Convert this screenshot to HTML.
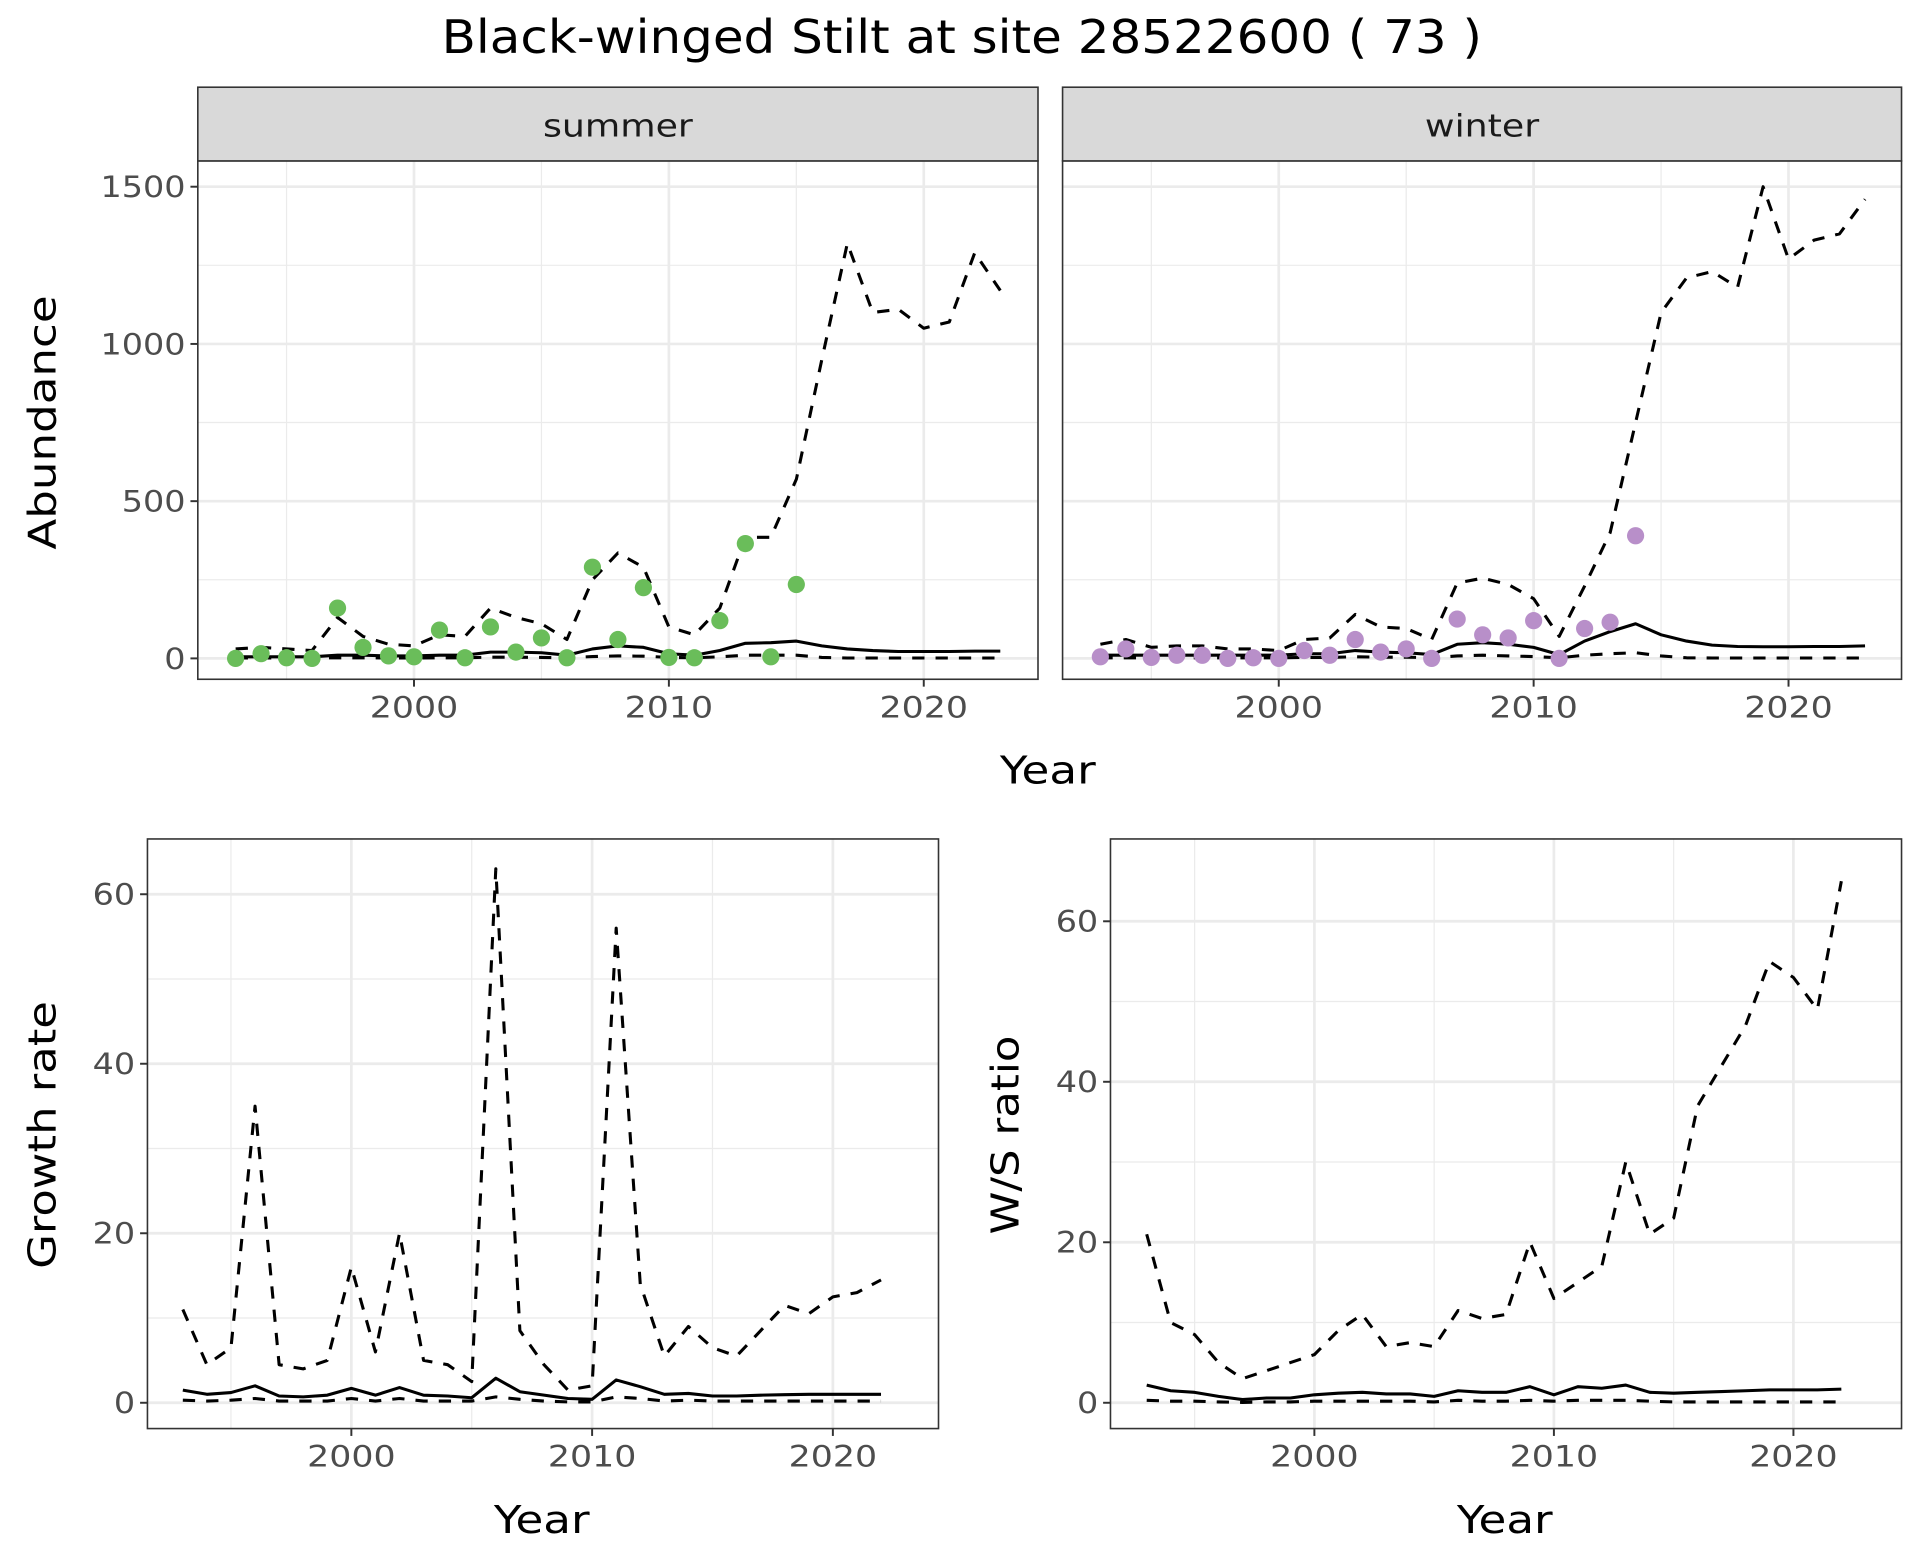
<!DOCTYPE html>
<html><head><meta charset="utf-8"><style>
body{margin:0;background:#fff}
svg{display:block;font-family:"DejaVu Sans","Liberation Sans",sans-serif}
</style></head><body>
<svg id="c" width="1920" height="1560" viewBox="0 0 1563 1270" xmlns="http://www.w3.org/2000/svg">
<text x="783" y="43" font-size="38" text-anchor="middle" fill="#000" textLength="847" lengthAdjust="spacingAndGlyphs">Black-winged Stilt at site 28522600 ( 73 )</text>
</svg>
<script>
const yearsA = [1993,1994,1995,1996,1997,1998,1999,2000,2001,2002,2003,2004,2005,2006,2007,2008,2009,2010,2011,2012,2013,2014,2015,2016,2017,2018,2019,2020,2021,2022,2023];
const summerPtsYears = [1993,1994,1995,1996,1997,1998,1999,2000,2001,2002,2003,2004,2005,2006,2007,2008,2009,2010,2011,2012,2013,2014,2015];
const summerPts = [0,15,2,0,160,35,8,5,90,2,100,20,65,2,290,60,225,3,2,120,365,5,235];
const summerUpper = [30,35,30,25,130,70,45,40,75,70,160,130,110,60,250,335,290,100,75,160,385,385,570,950,1320,1100,1110,1050,1070,1290,1170];
const summerMid = [5,5,5,5,10,10,8,8,10,10,20,20,18,10,30,40,35,15,10,25,48,50,55,40,30,25,22,22,22,23,23];
const summerLower = [1,1,1,1,2,2,1,1,2,2,4,4,3,2,6,8,7,3,2,5,10,10,10,3,1,1,1,1,1,1,1];
const winterPtsYears = [1993,1994,1995,1996,1997,1998,1999,2000,2001,2002,2003,2004,2005,2006,2007,2008,2009,2010,2011,2012,2013,2014];
const winterPts = [5,30,3,10,10,0,2,0,25,10,60,20,30,0,125,75,65,120,0,95,115,390];
const winterUpper = [45,60,35,40,40,30,30,25,60,65,140,100,95,60,240,255,235,190,70,230,400,750,1100,1210,1230,1180,1500,1270,1330,1350,1460];
const winterMid = [10,10,10,10,10,10,10,10,15,15,25,20,18,12,45,50,45,35,12,55,85,110,75,55,42,38,37,37,38,38,40];
const winterLower = [2,2,2,2,2,2,2,2,3,3,5,4,4,2,8,10,8,6,2,10,15,18,8,2,1,1,1,1,1,1,1];
const yearsB = [1993,1994,1995,1996,1997,1998,1999,2000,2001,2002,2003,2004,2005,2006,2007,2008,2009,2010,2011,2012,2013,2014,2015,2016,2017,2018,2019,2020,2021,2022];
const growthUpper = [11,4.5,6.5,35,4.5,4,5,16,6,20,5,4.5,2.5,63,8.5,4.5,1.5,2,56,14,5.5,9,6.5,5.5,8.5,11.5,10.5,12.5,13,14.5];
const growthMid = [1.5,1,1.2,2,0.8,0.7,0.9,1.7,0.9,1.8,0.9,0.8,0.6,2.9,1.3,0.9,0.5,0.4,2.7,1.9,1.0,1.1,0.8,0.8,0.9,0.95,1,1,1,1];
const growthLower = [0.3,0.2,0.3,0.5,0.2,0.2,0.2,0.5,0.2,0.5,0.2,0.2,0.2,0.7,0.4,0.2,0.1,0.1,0.7,0.5,0.2,0.3,0.2,0.2,0.2,0.2,0.2,0.2,0.2,0.2];
const ratioUpper = [21,10,8.5,5,3,4,5,6,9,11,7,7.5,7,11.5,10.5,11,20,13,15,17,30,21,23,37,42,47,55,53,49,65];
const ratioMid = [2.2,1.5,1.3,0.8,0.4,0.6,0.6,1,1.2,1.3,1.1,1.1,0.8,1.5,1.3,1.3,2,1,2,1.8,2.2,1.3,1.2,1.3,1.4,1.5,1.6,1.6,1.6,1.7];
const ratioLower = [0.3,0.2,0.2,0.1,0.05,0.1,0.1,0.2,0.2,0.2,0.2,0.2,0.1,0.3,0.2,0.2,0.3,0.2,0.3,0.3,0.3,0.2,0.1,0.1,0.1,0.1,0.1,0.1,0.1,0.1];
const abTicks = [0,500,1000,1500];
const abMinor = [250,750,1250];
const yrTicks = [2000,2010,2020];
const yrMinor = [1995,2005,2015];
const grTicks = [0,20,40,60];
const grMinor = [10,30,50];
const raTicks = [0,20,40,60];
const raMinor = [10,30,50];

const svg = document.getElementById('c');
const NS = 'http://www.w3.org/2000/svg';
function mk(tag, attrs, parent){const e=document.createElementNS(NS,tag);for(const k in attrs)e.setAttribute(k,attrs[k]);(parent||svg).appendChild(e);return e;}
function txt(s, attrs, w){const e=mk('text',attrs);e.textContent=s;if(w){e.setAttribute('textLength',w);e.setAttribute('lengthAdjust','spacingAndGlyphs');}return e;}

function panel(p){
  const g = mk('g',{});
  
  
  const sx = v => p.x0 + (v - p.xv0) * p.xs;
  const sy = v => p.y0 - v * p.ys;
  mk('rect',{x:p.l,y:p.t,width:p.r-p.l,height:p.b-p.t,fill:'#fff'},g);
  p.yMinor.forEach(v=>mk('line',{x1:p.l,x2:p.r,y1:sy(v),y2:sy(v),stroke:'#ebebeb','stroke-width':1},g));
  yrMinor.forEach(v=>mk('line',{x1:sx(v),x2:sx(v),y1:p.t,y2:p.b,stroke:'#ebebeb','stroke-width':1},g));
  p.yTicks.forEach(v=>mk('line',{x1:p.l,x2:p.r,y1:sy(v),y2:sy(v),stroke:'#ebebeb','stroke-width':2.2},g));
  yrTicks.forEach(v=>mk('line',{x1:sx(v),x2:sx(v),y1:p.t,y2:p.b,stroke:'#ebebeb','stroke-width':2.2},g));
  function line(xs, ys, dashed, name){
    const d = xs.map((x,i)=>(i?'L':'M')+sx(x).toFixed(1)+','+sy(ys[i]).toFixed(1)).join('');
    const el = mk('path',{d:d,fill:'none',stroke:'#000','stroke-width':2.5,'stroke-dasharray':dashed?'10,9':'none','stroke-linejoin':'round'},g);
    
    
  }
  line(p.xs_, p.upper, true, 'upper-bound-line');
  line(p.xs_, p.lower, true, 'lower-bound-line');
  line(p.xs_, p.mid, false, 'estimate-line');
  if(p.pts){
    p.ptsX.forEach((x,i)=>{
      const c = mk('circle',{cx:sx(x),cy:sy(p.pts[i]),r:7,fill:p.col},g);
      
      
    });
  }
  mk('rect',{x:p.l,y:p.t,width:p.r-p.l,height:p.b-p.t,fill:'none',stroke:'#333','stroke-width':1.3},g);
  if(p.yLabels){
    p.yTicks.forEach(v=>{
      mk('line',{x1:p.l-6,x2:p.l,y1:sy(v),y2:sy(v),stroke:'#333','stroke-width':1.6},g);
      const s=String(v);
      const t = txt(s,{x:p.l-10,y:sy(v)+8.5,'font-size':24,'text-anchor':'end',fill:'#4d4d4d'}, s.length*17.3);
      
      
    });
  }
  yrTicks.forEach(v=>{
    mk('line',{x1:sx(v),x2:sx(v),y1:p.b,y2:p.b+6,stroke:'#333','stroke-width':1.6},g);
    const t = txt(String(v),{x:sx(v),y:p.b+31,'font-size':24,'text-anchor':'middle',fill:'#4d4d4d'}, 72);
    
    
  });
  if(p.strip){
    mk('rect',{x:p.l,y:71,width:p.r-p.l,height:p.t-71,fill:'#d9d9d9',stroke:'#333','stroke-width':1.3},g);
    const t = txt(p.strip,{x:(p.l+p.r)/2,y:111,'font-size':25,'text-anchor':'middle',fill:'#1a1a1a'}, p.stripW);
    
    
  }
}

panel({name:'summer-panel',l:161,r:845,t:131,b:553,x0:337,xv0:2000,xs:20.75,y0:536,ys:0.256,yTicks:abTicks,yMinor:abMinor,yLabels:true,xs_:yearsA,upper:summerUpper,mid:summerMid,lower:summerLower,pts:summerPts,ptsX:summerPtsYears,col:'#6abd5a',strip:'summer',stripW:122});
panel({name:'winter-panel',l:865,r:1548,t:131,b:553,x0:1041,xv0:2000,xs:20.75,y0:536,ys:0.256,yTicks:abTicks,yMinor:abMinor,yLabels:false,xs_:yearsA,upper:winterUpper,mid:winterMid,lower:winterLower,pts:winterPts,ptsX:winterPtsYears,col:'#b88fc9',strip:'winter',stripW:93});
panel({name:'growth-panel',l:120,r:764,t:683,b:1163,x0:286,xv0:2000,xs:19.6,y0:1142,ys:6.9,yTicks:grTicks,yMinor:grMinor,yLabels:true,xs_:yearsB,upper:growthUpper,mid:growthMid,lower:growthLower});
panel({name:'ratio-panel',l:904,r:1548,t:683,b:1163,x0:1070,xv0:2000,xs:19.5,y0:1142,ys:6.533,yTicks:raTicks,yMinor:raMinor,yLabels:true,xs_:yearsB,upper:ratioUpper,mid:ratioMid,lower:ratioLower});

function label(s,x,y,rot,name,w){
  const t = txt(s,{x:x,y:y,'font-size':31,'text-anchor':'middle',fill:'#000',transform:rot?`rotate(-90 ${x} ${y})`:''}, w);
  
  
}
label('Year',853,638,false,'x-axis-title-top',78);
label('Abundance',45,344,true,'y-axis-title-abundance',207);
label('Year',441,1248,false,'x-axis-title-growth',78);
label('Growth rate',45,924,true,'y-axis-title-growth',218);
label('Year',1225,1248,false,'x-axis-title-ratio',78);
label('W/S ratio',829,924,true,'y-axis-title-ratio',162);
</script>
</body></html>
